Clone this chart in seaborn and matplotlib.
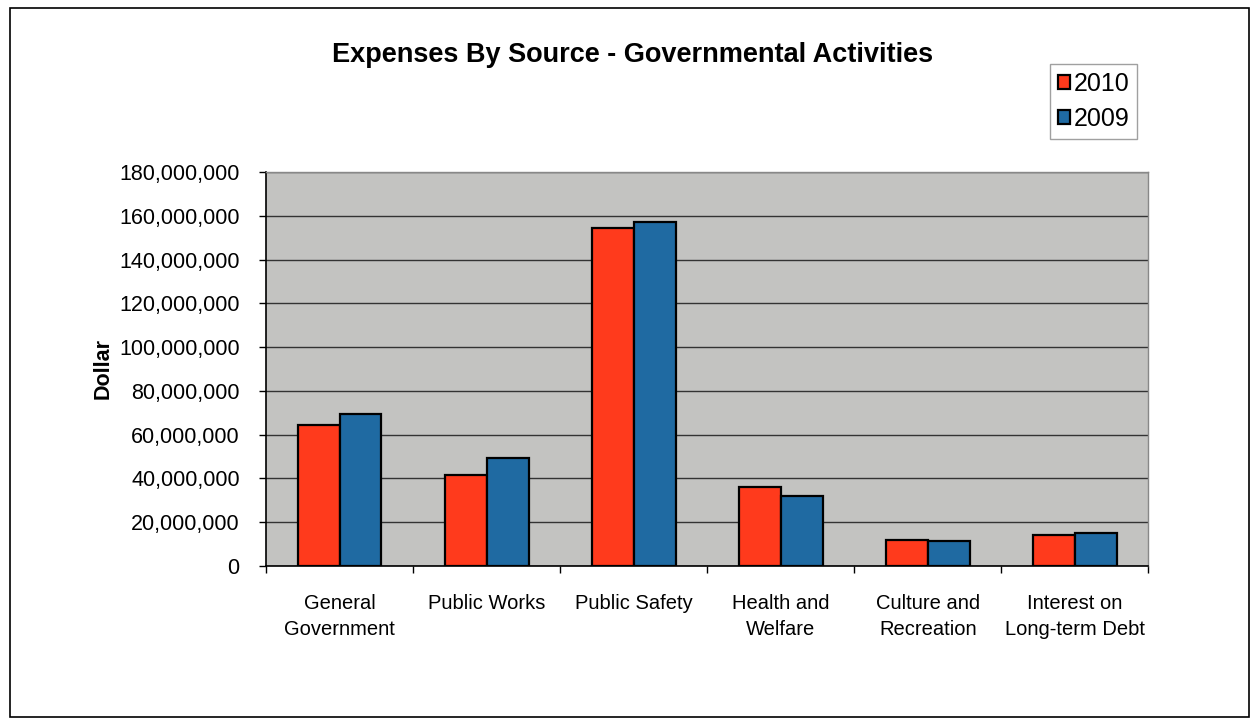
import matplotlib
matplotlib.use("Agg")
import matplotlib.pyplot as plt
import matplotlib.ticker as mticker
from matplotlib.patches import Rectangle
import seaborn as sns
import pandas as pd

categories = ["General\nGovernment", "Public Works", "Public Safety",
              "Health and\nWelfare", "Culture and\nRecreation", "Interest on\nLong-term Debt"]
values_2010 = [64_500_000, 41_500_000, 154_500_000, 36_000_000, 11_800_000, 14_200_000]
values_2009 = [69_500_000, 49_300_000, 157_000_000, 31_800_000, 11_200_000, 15_000_000]
series = ["2010", "2009"]
colors = ["#ff3a1c", "#1f6aa2"]

df = pd.DataFrame({
    "Category": categories * 2,
    "Year": [series[0]] * len(categories) + [series[1]] * len(categories),
    "Value": values_2010 + values_2009,
})

sns.set_theme(style="white")
plt.rcParams["font.family"] = ["Liberation Sans", "DejaVu Sans"]
plt.rcParams["text.color"] = "black"
plt.rcParams["axes.labelcolor"] = "black"
plt.rcParams["xtick.color"] = "black"
plt.rcParams["ytick.color"] = "black"

fig = plt.figure(figsize=(12.55, 7.21), dpi=100)
ax = fig.add_axes([0.212, 0.215, 0.703, 0.5465])
ax.set_facecolor("#c3c3c1")

sns.barplot(data=df, x="Category", y="Value", hue="Year", hue_order=series,
            palette=colors, width=0.57, edgecolor="black", linewidth=1.6,
            saturation=1, ax=ax, legend=True)

ax.set_ylim(0, 180_000_000)
ax.set_xlim(-0.5, len(categories) - 0.5)
ax.yaxis.set_major_locator(mticker.MultipleLocator(20_000_000))
ax.yaxis.set_major_formatter(mticker.FuncFormatter(lambda v, p: f"{int(v):,}"))
ax.grid(axis="y", color="#333333", linewidth=1.0)
ax.set_axisbelow(True)

ax.tick_params(axis="y", which="major", direction="out", length=5, width=1,
               color="black", labelsize=15.5, pad=14, left=True)
ax.tick_params(axis="x", which="major", length=0, labelsize=14.5, pad=20)
ax.xaxis.set_minor_locator(mticker.FixedLocator([i + 0.5 for i in range(-1, len(categories))]))
ax.tick_params(axis="x", which="minor", direction="out", length=5, width=1, color="black", bottom=True)

for lab in ax.get_xticklabels():
    lab.set_multialignment("center")
    lab.set_linespacing(1.45)

ax.set_xlabel("")
ax.set_ylabel("Dollar", fontsize=15.5, fontweight="bold", labelpad=4)

for side in ["left", "bottom"]:
    ax.spines[side].set_color("black")
    ax.spines[side].set_linewidth(1.2)
for side in ["top", "right"]:
    ax.spines[side].set_color("#888888")
    ax.spines[side].set_linewidth(1.0)

handles, labels = ax.get_legend_handles_labels()
ax.legend_.remove()
leg = fig.legend(handles, labels, loc="upper right", bbox_to_anchor=(0.916, 0.928),
                 fontsize=18, frameon=True, fancybox=False, edgecolor="#888888",
                 handlelength=0.5, handleheight=0.5, handletextpad=0.15,
                 borderpad=0.3, labelspacing=0.45)
leg.get_frame().set_linewidth(1.0)

fig.text(0.504, 0.924, "Expenses By Source - Governmental Activities",
         ha="center", va="center", fontsize=19.5, fontweight="bold")

fig.patches.append(Rectangle((0.008, 0.006), 0.987, 0.983, transform=fig.transFigure,
                             fill=False, edgecolor="black", linewidth=1.2))

fig.savefig("out.png", dpi=100, facecolor="white")
